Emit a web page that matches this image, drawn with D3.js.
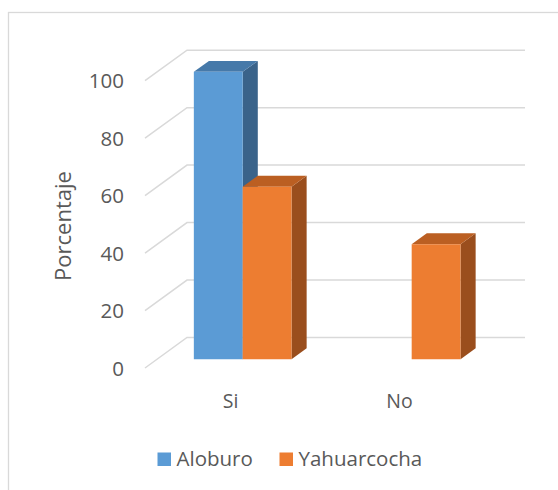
<!DOCTYPE html>
<html>
<head>
<meta charset="utf-8">
<script src="https://cdn.jsdelivr.net/npm/d3@7"></script>
<style>
  html, body { margin: 0; padding: 0; background: #fff; }
  svg { display: block; font-family: 'Open Sans', sans-serif; }
</style>
</head>
<body>
<svg id="chart" width="558" height="490"></svg>
<script>
const categories = ['Si', 'No']
const seriesNames = ['Aloburo', 'Yahuarcocha']
const aloburo = [100, 0]
const yahuarcocha = [60, 40]
const yTicks = [0, 20, 40, 60, 80, 100]

const colors = {
  Aloburo: { front: '#5b9bd5', top: '#4679a9', side: '#3a638a' },
  Yahuarcocha: { front: '#ed7d31', top: '#bb5f22', side: '#9a4e1d' }
}

// front plane of the floor, depth offset to the back wall
const plotLeft = 145
const plotWidth = 338
const depthX = 42
const depthY = -30.5
const barZ0 = 0.29
const barZ1 = 0.65

function buildSvgContainer(container) {
  return d3.select(container)
}

const svg = buildSvgContainer('#chart')

const y = d3.scaleLinear().domain([0, 100]).range([368, 80.7])
const x0 = d3.scaleBand().domain(categories).range([0, plotWidth])
const x1 = d3
  .scaleBand()
  .domain(seriesNames)
  .range([0, x0.bandwidth()])
  .paddingInner(0)
  .paddingOuter(0.73)

// project (x along category axis, value, depth 0..1) to screen
function project(x, v, z) {
  return [plotLeft + x + z * depthX, y(v) + z * depthY]
}

// chart area border (runs off the window on the right and bottom)
svg
  .append('rect')
  .attr('x', 8.5)
  .attr('y', 12.5)
  .attr('width', 700)
  .attr('height', 700)
  .attr('fill', 'none')
  .attr('stroke', '#d9d9d9')
  .attr('stroke-width', 1.3)

function buildGridlines(graph) {
  const grid = graph.append('g').attr('class', 'grid')
  grid
    .selectAll('path')
    .data(yTicks)
    .enter()
    .append('path')
    .attr('fill', 'none')
    .attr('stroke', '#d9d9d9')
    .attr('stroke-width', 1.5)
    .attr('d', (v) => {
      const a = project(0, v, 0)
      const b = project(0, v, 1)
      const c = project(plotWidth, v, 1)
      return 'M' + a + 'L' + b + 'L' + c
    })
}

function buildYLabels(graph) {
  graph
    .append('g')
    .selectAll('text')
    .data(yTicks)
    .enter()
    .append('text')
    .attr('x', 124)
    .attr('y', (v) => y(v) + 7.5)
    .attr('text-anchor', 'end')
    .attr('font-size', 20.5)
    .attr('fill', '#595959')
    .text((v) => v)

  graph
    .append('text')
    .attr('transform', 'translate(70.5,226) rotate(-90)')
    .attr('text-anchor', 'middle')
    .attr('font-size', 22)
    .attr('fill', '#595959')
    .text('Porcentaje')
}

function buildXLabels(graph) {
  graph
    .append('g')
    .selectAll('text')
    .data(categories)
    .enter()
    .append('text')
    .attr('x', (c) => plotLeft + x0(c) + x0.bandwidth() / 2 + 1)
    .attr('y', 407.5)
    .attr('text-anchor', 'middle')
    .attr('font-size', 19.5)
    .attr('fill', '#595959')
    .text((c) => c)
}

function barFaces(d) {
  const xa = x0(d.category) + x1(d.series) + 1
  const xb = xa + x1.bandwidth()
  const p = (x, v, z) => project(x, v, z).join(',')
  return [
    {
      fill: colors[d.series].side,
      d: 'M' + p(xb, 0, barZ0) + 'L' + p(xb, 0, barZ1) + 'L' + p(xb, d.value, barZ1) + 'L' + p(xb, d.value, barZ0) + 'Z'
    },
    {
      fill: colors[d.series].top,
      d: 'M' + p(xa, d.value, barZ0) + 'L' + p(xb, d.value, barZ0) + 'L' + p(xb, d.value, barZ1) + 'L' + p(xa, d.value, barZ1) + 'Z'
    },
    {
      fill: colors[d.series].front,
      d: 'M' + p(xa, 0, barZ0) + 'L' + p(xb, 0, barZ0) + 'L' + p(xb, d.value, barZ0) + 'L' + p(xa, d.value, barZ0) + 'Z'
    }
  ]
}

function buildBars(graph) {
  const rows = []
  categories.forEach((c, i) => {
    rows.push({ category: c, series: 'Aloburo', value: aloburo[i] })
    rows.push({ category: c, series: 'Yahuarcocha', value: yahuarcocha[i] })
  })

  const bars = graph
    .append('g')
    .selectAll('g')
    .data(rows.filter((d) => d.value > 0))
    .enter()
    .append('g')
    .attr('class', 'bar')

  bars
    .selectAll('path')
    .data((d) => barFaces(d))
    .enter()
    .append('path')
    .attr('d', (f) => f.d)
    .attr('fill', (f) => f.fill)
}

function buildLegend(graph) {
  const items = [
    { name: 'Aloburo', x: 157.5 },
    { name: 'Yahuarcocha', x: 279.5 }
  ]
  const legend = graph
    .append('g')
    .selectAll('g')
    .data(items)
    .enter()
    .append('g')
    .attr('transform', (d) => 'translate(' + d.x + ',452.5)')

  legend
    .append('rect')
    .attr('width', 13.5)
    .attr('height', 13.5)
    .attr('fill', (d) => colors[d.name].front)

  legend
    .append('text')
    .attr('x', 19)
    .attr('y', 13.5)
    .attr('font-size', 20.5)
    .attr('fill', '#595959')
    .text((d) => d.name)
}

const graph = svg.append('g')
buildGridlines(graph)
buildYLabels(graph)
buildXLabels(graph)
buildBars(graph)
buildLegend(graph)
</script>
</body>
</html>
